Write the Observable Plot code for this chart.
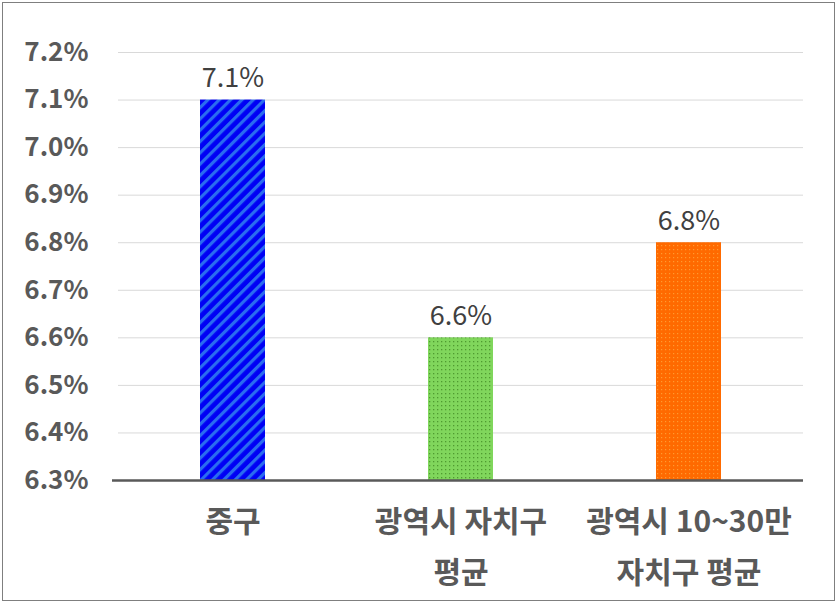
<!DOCTYPE html>
<html><head><meta charset="utf-8">
<script src="https://cdn.jsdelivr.net/npm/d3@7"></script>
<script src="https://cdn.jsdelivr.net/npm/@observablehq/plot@0.6"></script>
<style>
html,body{margin:0;padding:0;background:#fff;}
#wrap{position:relative;width:838px;height:604px;}
#border{position:absolute;left:2px;top:2px;width:831px;height:597px;border:1.5px solid #7f7f7f;pointer-events:none;}
</style></head>
<body><div id="wrap"><div id="border"></div></div>
<script>
const categories = ["중구", "광역시 자치구\n평균", "광역시 10~30만\n자치구 평균"];
const values = [7.1, 6.6, 6.8];
const labels = ["7.1%", "6.6%", "6.8%"];
const patterns = ["url(#pBlue)", "url(#pGreen)", "url(#pOrange)"];
const yTicks = [6.3, 6.4, 6.5, 6.6, 6.7, 6.8, 6.9, 7.0, 7.1, 7.2];

const data = categories.map((c, i) => ({cat: c, value: values[i], label: labels[i]}));
const font = "'Noto Sans CJK KR', 'Noto Sans', sans-serif";

const chart = Plot.plot({
  width: 838, height: 604,
  marginLeft: 118, marginRight: 35, marginTop: 52, marginBottom: 124,
  style: {fontFamily: font, background: "transparent"},
  x: {domain: categories, paddingInner: 0.715, paddingOuter: 0.355, label: null},
  y: {domain: [6.3, 7.2], label: null},
  color: {domain: categories, range: patterns},
  marks: [
    Plot.gridY(yTicks, {stroke: "#d9d9d9", strokeOpacity: 1, strokeWidth: 1}),
    Plot.barY(data, {x: "cat", y1: 6.3, y2: "value", fill: "cat"}),
    Plot.ruleY([6.3], {stroke: "#595959", strokeWidth: 2.5, insetLeft: -6}),
    Plot.text(data, {x: "cat", y: "value", text: "label", dy: -13, fontSize: 27, fill: "#404040", lineAnchor: "bottom"}),
    Plot.axisY({ticks: yTicks, tickSize: 0, tickPadding: 30, tickFormat: d => d.toFixed(1) + "%", fontSize: 26, fontWeight: "bold", fill: "#595959", label: null}),
    Plot.axisX({tickSize: 0, tickPadding: 15, fontSize: 30, fontWeight: "bold", fill: "#595959", lineHeight: 1.7, label: null})
  ]
});

const svgNS = "http://www.w3.org/2000/svg";
const defs = document.createElementNS(svgNS, "defs");
defs.innerHTML = `
<pattern id="pBlue" patternUnits="userSpaceOnUse" width="8" height="8" patternTransform="rotate(45)">
  <rect width="8" height="8" fill="#0000f5"/>
  <rect width="3.2" height="8" fill="#2a6cf0"/>
</pattern>
<pattern id="pGreen" patternUnits="userSpaceOnUse" width="4" height="4">
  <rect width="4" height="4" fill="#80d65c"/>
  <rect x="1" y="1" width="1.3" height="1.3" fill="#4f9a30"/>
</pattern>
<pattern id="pOrange" patternUnits="userSpaceOnUse" width="4" height="4">
  <rect width="4" height="4" fill="#ff6a00"/>
  <rect x="1" y="1" width="1.2" height="1.2" fill="#ff9a30"/>
</pattern>`;
chart.insertBefore(defs, chart.firstChild);
document.getElementById("wrap").appendChild(chart);
</script>
</body></html>
